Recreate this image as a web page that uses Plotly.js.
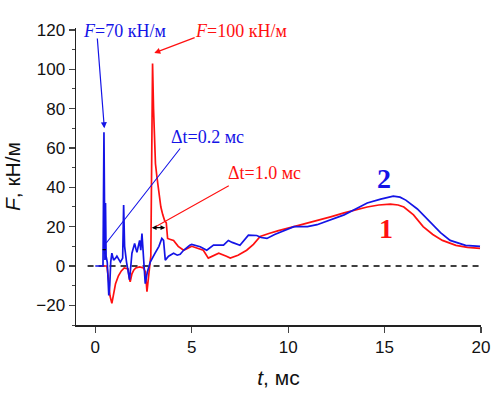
<!DOCTYPE html>
<html><head><meta charset="utf-8">
<script src="https://cdn.plot.ly/plotly-3.0.1.min.js"></script>
<style>body{margin:0;background:#fff}#c{width:500px;height:394px}</style>
</head><body><div id="c"></div>
<script>
// Curve 1 (red)
const t1 = [0.3, 0.6, 0.68, 0.76, 0.86, 0.95, 1.05, 1.2, 1.35, 1.5, 1.7, 1.76, 1.81, 1.9, 2.0, 2.1, 2.3, 2.5, 2.6, 2.68, 2.72, 2.8, 2.88, 2.93, 2.97, 3.02, 3.07, 3.12, 3.2, 3.3, 3.4, 3.5, 3.6, 3.68, 3.75, 3.9, 4.06, 4.3, 4.58, 4.8, 5.0, 5.3, 5.6, 5.86, 6.1, 6.4, 6.8, 7.0, 7.4, 7.85, 8.2, 8.55, 9.0, 9.5, 10.3, 11.5, 12.2, 12.9, 13.5, 14.1, 14.7, 15.3, 15.7, 16.0, 16.5, 17.0, 17.5, 18.0, 18.7, 19.3, 19.95];
const F1 = [0, 0, -6, -15, -19, -15, -9, -5, -2.5, -1, -1.5, -6, -8, -4, -2, -1, -0.5, -1, -3, -13, -10, -2, 5, 60, 103, 80, 62, 52, 45, 36, 30, 26, 23, 22, 14, 13.5, 13, 10, 8, 9, 10, 9, 8, 4, 5, 6.5, 5, 4, 5.5, 8, 11, 15, 16.5, 18, 20, 23, 25, 27, 28.5, 30, 31, 31.5, 31, 30, 26, 20, 16, 13, 10.5, 9.5, 9];
// Curve 2 (blue)
const t2 = [0, 0.4, 0.45, 0.48, 0.5, 0.53, 0.56, 0.62, 0.7, 0.75, 0.8, 0.86, 0.95, 1.05, 1.12, 1.3, 1.42, 1.47, 1.52, 1.62, 1.73, 1.78, 1.9, 2.04, 2.1, 2.16, 2.3, 2.36, 2.42, 2.5, 2.59, 2.7, 2.85, 3.1, 3.3, 3.45, 3.54, 3.63, 3.8, 4.06, 4.25, 4.4, 4.58, 4.9, 5.0, 5.44, 5.78, 6.13, 6.65, 6.9, 7.1, 7.5, 7.94, 8.37, 8.6, 8.9, 9.3, 10.3, 11.0, 11.5, 12.2, 12.9, 13.5, 14.1, 14.8, 15.45, 15.8, 16.1, 16.7, 17.4, 17.9, 18.4, 19.2, 19.95];
const F2 = [0, 0, 68, 10, 3, 32, 5, 2, -15, -10, 2, 6.5, 3, 4, 5, 2, 4, 31, 10, 2, -4.6, -7, 6.5, 11.5, 9, 7, 13, 8, 16.5, 5, -9, -3, 2, 6.5, 10, 14, 13, 3, 5, 6.5, 5.5, 6, 8, 10.5, 11, 9.8, 8, 10.6, 10.6, 13, 12, 10.5, 15.7, 15.5, 14.5, 14, 16, 20, 20, 21, 23.5, 26, 29, 32, 34, 35.5, 35, 33.5, 29, 22, 17, 13, 10.5, 10];
// zero reference line
const t0 = [-0.4, 20];
const F0 = [0, 0];

const traces = [
  {x: t0, y: F0, mode: 'lines', line: {color: '#000', width: 1.4, dash: '6px,5px'}, hoverinfo: 'skip'},
  {x: t1, y: F1, mode: 'lines', line: {color: '#ff1010', width: 1.7}},
  {x: t2, y: F2, mode: 'lines', line: {color: '#1414e6', width: 1.7}}
];

const serif = 'Liberation Serif, Times New Roman, serif';
const sans = 'Liberation Sans, Arial, sans-serif';
const blue = '#1414e6', red = '#ff1010';

const layout = {
  width: 500, height: 394,
  margin: {l: 76, r: 19, t: 28, b: 69},
  paper_bgcolor: '#fff', plot_bgcolor: '#fff',
  showlegend: false,
  xaxis: {
    range: [-1, 20], tickvals: [0, 5, 10, 15, 20], ticks: 'outside', ticklen: 6, tickwidth: 1.2,
    showline: true, linecolor: '#222', linewidth: 1.5, zeroline: false, showgrid: false,
    tickfont: {family: sans, size: 17, color: '#111'},
    title: {text: '<i>t</i>, мс', font: {family: sans, size: 21, color: '#111'}, standoff: 14}
  },
  yaxis: {
    range: [-30, 121], tickvals: [-20, 0, 20, 40, 60, 80, 100, 120], ticks: 'outside', ticklen: 6, tickwidth: 1.2,
    minor: {tickvals: [-30, -10, 10, 30, 50, 70, 90, 110], ticks: 'outside', ticklen: 3, tickwidth: 1},
    showline: true, linecolor: '#222', linewidth: 1.5, zeroline: false, showgrid: false,
    tickfont: {family: sans, size: 17, color: '#111'},
    title: {text: '<i>F</i>, кН/м', font: {family: sans, size: 21, color: '#111'}, standoff: 10}
  },
  annotations: [
    {x: 1.5, y: 119.5, xref: 'x', yref: 'y', text: '<i>F</i>=70 кН/м', showarrow: false, font: {family: serif, size: 18, color: blue}},
    {x: 0.47, y: 70, ax: 0.1, ay: 116.4, axref: 'x', ayref: 'y', xref: 'x', yref: 'y', text: '', showarrow: true, arrowhead: 2, arrowsize: 1, arrowwidth: 1.2, arrowcolor: blue, standoff: 0},
    {x: 7.55, y: 119.5, xref: 'x', yref: 'y', text: '<i>F</i>=100 кН/м', showarrow: false, font: {family: serif, size: 18, color: red}},
    {x: 3.06, y: 108.3, ax: 5.23, ay: 116.4, axref: 'x', ayref: 'y', xref: 'x', yref: 'y', text: '', showarrow: true, arrowhead: 2, arrowsize: 1, arrowwidth: 1.2, arrowcolor: red, standoff: 0},
    {x: 5.8, y: 65.6, xref: 'x', yref: 'y', text: 'Δt=0.2 мс', showarrow: false, font: {family: serif, size: 18, color: blue}},
    {x: 0.57, y: 11.7, ax: 4.46, ay: 60.5, axref: 'x', ayref: 'y', xref: 'x', yref: 'y', text: '', showarrow: true, arrowhead: 0, arrowwidth: 1.1, arrowcolor: blue, standoff: 0},
    {x: 0.55, y: 8.3, ax: 0.3, ay: 8.3, axref: 'x', ayref: 'y', xref: 'x', yref: 'y', text: '', showarrow: true, arrowhead: 0, arrowwidth: 1.2, arrowcolor: '#000', standoff: 0},
    {x: 8.76, y: 47.3, xref: 'x', yref: 'y', text: 'Δt=1.0 мс', showarrow: false, font: {family: serif, size: 18, color: red}},
    {x: 3.1, y: 19.8, ax: 7.0, ay: 41.2, axref: 'x', ayref: 'y', xref: 'x', yref: 'y', text: '', showarrow: true, arrowhead: 0, arrowwidth: 1.1, arrowcolor: red, standoff: 0},
    {x: 3.63, y: 19.5, ax: 2.85, ay: 19.5, axref: 'x', ayref: 'y', xref: 'x', yref: 'y', text: '', showarrow: true, arrowhead: 2, startarrowhead: 2, arrowside: 'end+start', arrowsize: 0.8, startarrowsize: 0.8, arrowwidth: 1.2, arrowcolor: '#000', standoff: 0, startstandoff: 0},
    {x: 14.97, y: 44.7, xref: 'x', yref: 'y', text: '<b>2</b>', showarrow: false, font: {family: serif, size: 28, color: blue}},
    {x: 15.08, y: 19.3, xref: 'x', yref: 'y', text: '<b>1</b>', showarrow: false, font: {family: serif, size: 28, color: red}}
  ]
};

Plotly.newPlot('c', traces, layout, {staticPlot: true, displayModeBar: false});
</script>
</body></html>
